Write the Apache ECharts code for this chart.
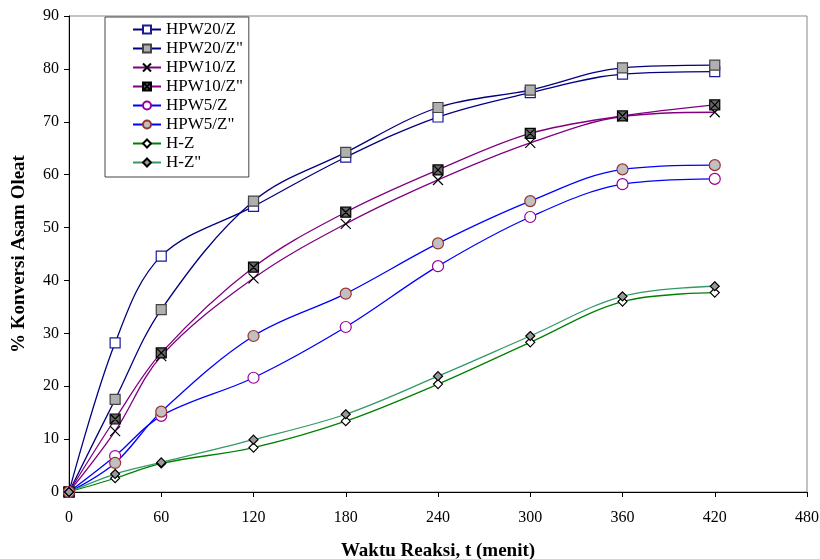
<!DOCTYPE html>
<html>
<head>
<meta charset="utf-8">
<script src="https://cdn.jsdelivr.net/npm/echarts@6/dist/echarts.min.js"></script>
<style>
  html, body { margin: 0; padding: 0; background: #fff; }
  #chart { width: 820px; height: 559px; }
</style>
</head>
<body>
<div id="chart"></div>
<script>
// waktu reaksi (menit)
const times = [0, 30, 60, 120, 180, 240, 300, 360, 420];

const hpw20z   = [0, 28.2, 44.6, 54.0, 63.3, 70.9, 75.5, 79.0, 79.5];
const hpw20zz  = [0, 17.5, 34.5, 55.0, 64.2, 72.7, 76.0, 80.2, 80.7];
const hpw10z   = [0, 11.5, 25.7, 40.4, 50.7, 59.0, 66.0, 71.0, 71.8];
const hpw10zz  = [0, 13.8, 26.3, 42.5, 52.9, 60.9, 67.8, 71.1, 73.2];
const hpw5z    = [0, 6.8, 14.4, 21.6, 31.2, 42.7, 52.0, 58.2, 59.2];
const hpw5zz   = [0, 5.5, 15.2, 29.5, 37.5, 47.0, 55.0, 61.0, 61.8];
const hz       = [0, 2.6, 5.4, 8.4, 13.4, 20.4, 28.3, 36.0, 37.7];
const hzz      = [0, 3.4, 5.6, 9.9, 14.7, 21.9, 29.5, 37.0, 38.9];

const pairs = arr => times.map((t, i) => [t, arr[i]]);

const crossPath = 'path://M0,0L10,10M10,0L0,10';
const boxCross = 'path://M0,0L10,0L10,10L0,10Z M1,1L9,9M9,1L1,9';

function mk(name, data, lineColor, symbol, size, fill, border) {
  return {
    name: name,
    type: 'line',
    smooth: 0.35,
    data: pairs(data),
    symbol: symbol,
    symbolSize: size,
    showAllSymbol: true,
    lineStyle: { color: lineColor, width: 1.3 },
    itemStyle: { color: fill, borderColor: border, borderWidth: 1.2 },
    emphasis: { disabled: true }
  };
}

const chart = echarts.init(document.getElementById('chart'));
chart.setOption({
  animation: false,
  textStyle: { fontFamily: 'Liberation Serif' },
  grid: {
    left: 69, right: 13, top: 16, bottom: 67,
    outerBoundsMode: 'none', containLabel: false,
    show: true, borderColor: '#888', borderWidth: 1
  },
  legend: {
    orient: 'vertical',
    left: 105, top: 17,
    padding: [4, 6, 6, 27],
    itemGap: 2,
    itemWidth: 28,
    itemHeight: 10,
    backgroundColor: '#fff',
    borderColor: '#444',
    borderWidth: 1,
    textStyle: { fontFamily: 'Liberation Serif', fontSize: 17, color: '#000' },
    data: ['HPW20/Z', 'HPW20/Z"', 'HPW10/Z', 'HPW10/Z"', 'HPW5/Z', 'HPW5/Z"', 'H-Z', 'H-Z"']
  },
  xAxis: {
    type: 'value',
    min: 0, max: 480, interval: 60,
    name: 'Waktu Reaksi, t (menit)',
    nameLocation: 'middle',
    nameGap: 50,
    nameTextStyle: { fontFamily: 'Liberation Serif', fontSize: 19, fontWeight: 'bold', color: '#000' },
    axisLine: { lineStyle: { color: '#000' } },
    axisTick: { lineStyle: { color: '#000' }, length: 5 },
    axisLabel: { fontFamily: 'Liberation Serif', fontSize: 16, color: '#000', margin: 18 },
    splitLine: { show: false }
  },
  yAxis: {
    type: 'value',
    min: 0, max: 90, interval: 10,
    name: '% Konversi Asam Oleat',
    nameLocation: 'middle',
    nameGap: 40,
    nameTextStyle: { fontFamily: 'Liberation Serif', fontSize: 19, fontWeight: 'bold', color: '#000' },
    axisLine: { show: true, lineStyle: { color: '#000' } },
    axisTick: { show: true, lineStyle: { color: '#000' }, length: 5 },
    axisLabel: { fontFamily: 'Liberation Serif', fontSize: 16, color: '#000', margin: 10 },
    splitLine: { show: false }
  },
  series: [
    mk('HPW20/Z', hpw20z, '#000080', 'rect', 10, '#fff', '#1a1a99'),
    mk('HPW20/Z"', hpw20zz, '#000080', 'rect', 10, '#b0b0b0', '#444'),
    mk('HPW10/Z', hpw10z, '#800080', crossPath, 10, 'none', '#000'),
    mk('HPW10/Z"', hpw10zz, '#800080', boxCross, 10, '#666', '#000'),
    mk('HPW5/Z', hpw5z, '#0000ff', 'circle', 11, '#fff', '#990099'),
    mk('HPW5/Z"', hpw5zz, '#0000ff', 'circle', 11, '#c0c0c0', '#993333'),
    mk('H-Z', hz, '#008000', 'diamond', 9, '#fff', '#000'),
    mk('H-Z"', hzz, '#339966', 'diamond', 9, '#999', '#000')
  ]
});
</script>
</body>
</html>
